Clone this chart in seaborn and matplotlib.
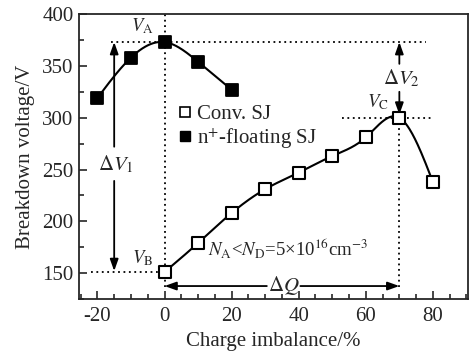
import numpy as np
import pandas as pd
import matplotlib
matplotlib.use("Agg")
import matplotlib.pyplot as plt
import seaborn as sns
from matplotlib.lines import Line2D
from matplotlib.ticker import MultipleLocator

# ---- data ----
float_x = [-20, -10, 0, 10, 20]
float_y = [319, 358, 373, 354, 327]
conv_x = [0, 10, 20, 30, 40, 50, 60, 70, 80]
conv_y = [151, 179, 208, 231, 247, 263, 281, 300, 238]
xticks = [-20, 0, 20, 40, 60, 80]
yticks = [150, 200, 250, 300, 350, 400]

sns.set_style("ticks")
plt.rcParams['font.family'] = ['Liberation Serif', 'DejaVu Serif']
plt.rcParams['mathtext.fontset'] = 'stix'
plt.rcParams['axes.unicode_minus'] = False


def natural_spline(x, y, n=300):
    x = np.asarray(x, float); y = np.asarray(y, float)
    k = len(x); h = np.diff(x)
    A = np.zeros((k, k)); b = np.zeros(k)
    A[0, 0] = 1; A[-1, -1] = 1
    for i in range(1, k - 1):
        A[i, i - 1] = h[i - 1]; A[i, i] = 2 * (h[i - 1] + h[i]); A[i, i + 1] = h[i]
        b[i] = 6 * ((y[i + 1] - y[i]) / h[i] - (y[i] - y[i - 1]) / h[i - 1])
    M = np.linalg.solve(A, b)
    xs = np.linspace(x[0], x[-1], n)
    idx = np.clip(np.searchsorted(x, xs) - 1, 0, k - 2)
    x0, x1 = x[idx], x[idx + 1]; hh = x1 - x0
    ys = (M[idx] * (x1 - xs) ** 3 / (6 * hh) + M[idx + 1] * (xs - x0) ** 3 / (6 * hh)
          + (y[idx] / hh - M[idx] * hh / 6) * (x1 - xs)
          + (y[idx + 1] / hh - M[idx + 1] * hh / 6) * (xs - x0))
    return xs, ys


fig = plt.figure(figsize=(4.7, 3.53), dpi=100)
ax = fig.add_axes([0.168, 0.153, 0.828, 0.807])

fx, fy = natural_spline(float_x, float_y)
cx, cy = natural_spline(conv_x, conv_y)
sns.lineplot(x=fx, y=fy, ax=ax, color='black', lw=1.5, sort=False)
sns.lineplot(x=cx, y=cy, ax=ax, color='black', lw=1.5, sort=False)
sns.scatterplot(x=float_x, y=float_y, ax=ax, marker='s', s=75, color='black',
                edgecolor='black', linewidth=1.3, zorder=5)
sns.scatterplot(x=conv_x, y=conv_y, ax=ax, marker='s', s=75, color='white',
                edgecolor='black', linewidth=1.5, zorder=5)

dot = dict(color='black', lw=1.3, ls=(0, (1, 2)))
vA = float_y[2]; vB = conv_y[0]; vC = conv_y[7]
ax.plot([-16, 78], [vA, vA], **dot)
ax.plot([0, 0], [137, 400], **dot)
ax.plot([-22, 0], [vB, vB], **dot)
ax.plot([53, 80], [vC, vC], **dot)
ax.plot([70, 70], [137, vC], **dot)

arr = dict(arrowstyle='-|>,head_length=0.7,head_width=0.25', color='black', lw=1.3,
           shrinkA=0, shrinkB=0)
# Delta V1
ax.annotate('', xy=(-15, vA), xytext=(-15, 272), arrowprops=arr)
ax.annotate('', xy=(-15, vB + 1), xytext=(-15, 239), arrowprops=arr)
ax.text(-14.5, 255, r'$\Delta V_1$', ha='center', va='center', fontsize=15)
# Delta V2
ax.annotate('', xy=(70, vA), xytext=(70, 352), arrowprops=arr)
ax.annotate('', xy=(70, vC + 3), xytext=(70, 325), arrowprops=arr)
ax.text(70.5, 338, r'$\Delta V_2$', ha='center', va='center', fontsize=15)
# Delta Q
ax.annotate('', xy=(0, 137.5), xytext=(30.5, 137.5), arrowprops=arr)
ax.annotate('', xy=(70, 137.5), xytext=(40.5, 137.5), arrowprops=arr)
ax.text(35.5, 138, r'$\Delta Q$', ha='center', va='center', fontsize=15)

ax.text(-6.5, 388, r'$V_{\rm A}$', ha='center', va='center', fontsize=13.5)
ax.text(-6.5, 164, r'$V_{\rm B}$', ha='center', va='center', fontsize=13.5)
ax.text(63.5, 315, r'$V_{\rm C}$', ha='center', va='center', fontsize=13.5)
ax.text(13, 173, r'$N_{\rm A}$<$N_{\rm D}$=5×10$^{16}$cm$^{-3}$', ha='left',
        va='center', fontsize=13.5)

handles = [Line2D([], [], ls='none', marker='s', mfc='white', mec='black', mew=1.2, ms=7),
           Line2D([], [], ls='none', marker='s', mfc='black', mec='black', ms=7)]
ax.legend(handles, ['Conv. SJ', r'n$^{+}$-floating SJ'], loc='upper left',
          bbox_to_anchor=(0.23, 0.72), frameon=False, fontsize=15,
          handlelength=0.6, handletextpad=0.25, labelspacing=0.1, borderpad=0)

ax.set_xlim(-25.5, 90.5)
ax.set_ylim(125, 400)
ax.set_xticks(xticks)
ax.set_yticks(yticks)
ax.xaxis.set_minor_locator(MultipleLocator(5))
ax.yaxis.set_minor_locator(MultipleLocator(25))
ax.tick_params(which='both', direction='in', labelsize=15, width=1.2, top=False, right=False)
ax.tick_params(which='major', length=6)
ax.tick_params(axis='x', which='major', pad=6)
ax.tick_params(axis='y', which='major', pad=4)
ax.tick_params(which='minor', length=3.5)
for s in ax.spines.values():
    s.set_linewidth(1.3)
ax.set_xlabel('Charge imbalance/%', fontsize=15, labelpad=4)
ax.set_ylabel('Breakdown voltage/V', fontsize=15, labelpad=5)

fig.savefig('out.png', dpi=100)
